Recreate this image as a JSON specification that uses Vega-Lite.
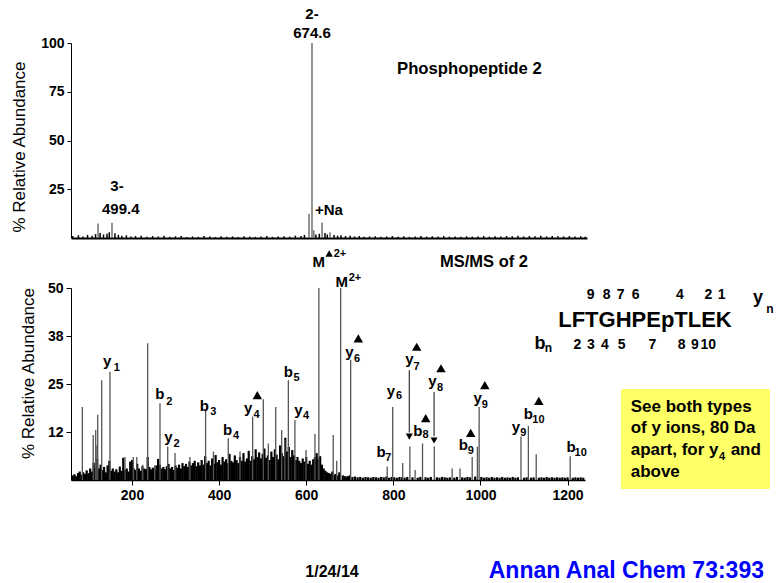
{
 "$schema": "https://vega.github.io/schema/vega-lite/v6.json",
 "padding": {"left": 10, "top": 6, "right": 14, "bottom": 8},
 "background": "white",
 "spacing": 50,
 "bounds": "flush",
 "config": {
  "view": {"stroke": null},
  "font": "Liberation Sans",
  "axis": {"grid": false, "labelFont": "Liberation Sans", "labelFontWeight": "bold", "labelFontSize": 14, "labelColor": "black", "tickColor": "black", "domainColor": "black", "tickSize": 5, "labelPadding": 3, "titleFont": "Liberation Sans", "titleFontSize": 17, "titleFontWeight": "normal", "titleColor": "black"}
 },
 "datasets": {
  "topNoise": [{"mz":465,"v":1.0},{"mz":470,"v":1.4},{"mz":474,"v":0.8},{"mz":478,"v":1.6},{"mz":482,"v":1.2},{"mz":485,"v":2.0},{"mz":489,"v":2.6},{"mz":492,"v":1.8},{"mz":495,"v":2.2},{"mz":497,"v":3.0},{"mz":502,"v":2.4},{"mz":505,"v":1.6},{"mz":508,"v":1.2},{"mz":512,"v":1.4},{"mz":516,"v":0.8},{"mz":520,"v":1.0},{"mz":525,"v":1.2},{"mz":530,"v":0.6},{"mz":535,"v":1.0},{"mz":540,"v":0.8},{"mz":545,"v":1.2},{"mz":550,"v":0.6},{"mz":555,"v":0.9},{"mz":560,"v":1.0},{"mz":565,"v":0.5},{"mz":570,"v":0.8},{"mz":575,"v":0.6},{"mz":580,"v":1.0},{"mz":585,"v":0.8},{"mz":590,"v":0.5},{"mz":595,"v":0.9},{"mz":600,"v":0.6},{"mz":605,"v":0.8},{"mz":610,"v":0.5},{"mz":615,"v":0.9},{"mz":620,"v":0.7},{"mz":625,"v":0.6},{"mz":630,"v":0.8},{"mz":635,"v":1.0},{"mz":640,"v":0.6},{"mz":645,"v":0.8},{"mz":650,"v":0.9},{"mz":655,"v":0.7},{"mz":660,"v":1.2},{"mz":665,"v":1.0},{"mz":668,"v":1.6},{"mz":678,"v":1.8},{"mz":681,"v":2.2},{"mz":686,"v":2.6},{"mz":688,"v":1.8},{"mz":694,"v":1.6},{"mz":697,"v":1.2},{"mz":700,"v":1.4},{"mz":704,"v":1.0},{"mz":708,"v":1.2},{"mz":712,"v":0.8},{"mz":716,"v":1.0},{"mz":720,"v":0.6},{"mz":725,"v":0.8},{"mz":730,"v":0.9},{"mz":735,"v":0.6},{"mz":740,"v":0.8},{"mz":745,"v":1.0},{"mz":750,"v":0.7},{"mz":755,"v":0.9},{"mz":760,"v":0.6},{"mz":765,"v":0.8},{"mz":770,"v":1.0},{"mz":775,"v":0.7},{"mz":780,"v":0.9},{"mz":785,"v":0.8},{"mz":790,"v":1.0},{"mz":795,"v":0.7},{"mz":800,"v":0.8},{"mz":805,"v":0.6},{"mz":810,"v":0.9},{"mz":815,"v":0.7},{"mz":820,"v":0.8},{"mz":825,"v":1.0},{"mz":830,"v":0.7},{"mz":835,"v":0.9},{"mz":840,"v":0.8},{"mz":845,"v":1.0},{"mz":850,"v":0.9},{"mz":855,"v":1.1},{"mz":860,"v":0.8},{"mz":865,"v":1.0},{"mz":870,"v":0.9},{"mz":875,"v":1.1},{"mz":880,"v":0.8},{"mz":885,"v":1.0},{"mz":890,"v":0.9},{"mz":895,"v":0.8},{"mz":900,"v":1.0},{"mz":905,"v":0.8},{"mz":910,"v":0.9},{"mz":914,"v":0.7}],
  "topPeaks": [{"mz":487.2,"v":7.5},{"mz":499.4,"v":7.8},{"mz":672,"v":12.5},{"mz":674.6,"v":100},{"mz":676.2,"v":4},{"mz":683.4,"v":8},{"mz":690.4,"v":3}],
  "topText": [{"mz":674.6,"v":114.9,"t":"2-"},{"mz":674.6,"v":104.9,"t":"674.6"},{"mz":503.8,"v":26.6,"t":"3-"},{"mz":507.1,"v":14.9,"t":"499.4"},{"mz":689.5,"v":14.4,"t":"+Na"}],
  "topTitle": [{"mz":749.1,"v":86.7,"t":"Phosphopeptide 2"}],
  "msNoise": [{"mz":64,"v":1.2},{"mz":68,"v":1.5},{"mz":72,"v":1.0},{"mz":76,"v":1.8},{"mz":80,"v":2.2},{"mz":84,"v":1.4},{"mz":88,"v":2.0},{"mz":92,"v":1.6},{"mz":96,"v":2.5},{"mz":100,"v":1.8},{"mz":104,"v":3.0},{"mz":108,"v":2.2},{"mz":112,"v":4.5},{"mz":116,"v":3.2},{"mz":120,"v":5.5},{"mz":124,"v":3.0},{"mz":128,"v":4.0},{"mz":132,"v":2.6},{"mz":136,"v":3.4},{"mz":140,"v":2.0},{"mz":144,"v":3.8},{"mz":148,"v":5.0},{"mz":152,"v":2.4},{"mz":156,"v":3.0},{"mz":160,"v":2.2},{"mz":164,"v":2.8},{"mz":168,"v":2.0},{"mz":172,"v":3.5},{"mz":176,"v":2.4},{"mz":180,"v":5.8},{"mz":184,"v":2.6},{"mz":188,"v":3.0},{"mz":192,"v":2.2},{"mz":196,"v":4.8},{"mz":200,"v":5.2},{"mz":204,"v":3.0},{"mz":208,"v":2.6},{"mz":212,"v":4.2},{"mz":216,"v":3.0},{"mz":220,"v":2.4},{"mz":224,"v":3.6},{"mz":228,"v":3.0},{"mz":232,"v":2.8},{"mz":236,"v":6.0},{"mz":240,"v":3.4},{"mz":244,"v":2.8},{"mz":248,"v":3.2},{"mz":252,"v":2.6},{"mz":256,"v":3.8},{"mz":260,"v":5.5},{"mz":264,"v":4.0},{"mz":268,"v":3.0},{"mz":272,"v":3.4},{"mz":276,"v":2.8},{"mz":280,"v":3.6},{"mz":284,"v":4.2},{"mz":288,"v":3.0},{"mz":292,"v":3.4},{"mz":296,"v":2.6},{"mz":300,"v":3.8},{"mz":304,"v":3.2},{"mz":308,"v":4.0},{"mz":312,"v":3.0},{"mz":316,"v":4.4},{"mz":320,"v":3.6},{"mz":324,"v":4.2},{"mz":328,"v":3.4},{"mz":332,"v":4.8},{"mz":336,"v":3.8},{"mz":340,"v":4.4},{"mz":344,"v":5.0},{"mz":348,"v":3.6},{"mz":352,"v":4.6},{"mz":356,"v":3.8},{"mz":360,"v":5.2},{"mz":364,"v":4.0},{"mz":368,"v":6.2},{"mz":372,"v":4.4},{"mz":376,"v":5.0},{"mz":380,"v":3.8},{"mz":384,"v":5.6},{"mz":388,"v":4.2},{"mz":392,"v":6.5},{"mz":396,"v":4.6},{"mz":400,"v":5.2},{"mz":404,"v":4.0},{"mz":408,"v":6.0},{"mz":412,"v":4.8},{"mz":416,"v":5.4},{"mz":420,"v":4.4},{"mz":424,"v":6.8},{"mz":428,"v":5.0},{"mz":432,"v":4.6},{"mz":436,"v":6.4},{"mz":440,"v":5.2},{"mz":444,"v":4.4},{"mz":448,"v":6.0},{"mz":452,"v":5.0},{"mz":456,"v":7.0},{"mz":460,"v":4.8},{"mz":464,"v":5.6},{"mz":468,"v":7.6},{"mz":472,"v":5.0},{"mz":476,"v":6.2},{"mz":480,"v":5.4},{"mz":484,"v":8.0},{"mz":488,"v":6.0},{"mz":492,"v":7.2},{"mz":496,"v":5.6},{"mz":500,"v":6.8},{"mz":504,"v":8.2},{"mz":508,"v":5.8},{"mz":512,"v":6.4},{"mz":516,"v":5.2},{"mz":520,"v":7.4},{"mz":524,"v":6.0},{"mz":528,"v":8.0},{"mz":532,"v":6.6},{"mz":536,"v":5.4},{"mz":540,"v":9.0},{"mz":544,"v":7.0},{"mz":548,"v":6.2},{"mz":552,"v":11.0},{"mz":556,"v":7.4},{"mz":560,"v":8.6},{"mz":564,"v":6.0},{"mz":568,"v":7.8},{"mz":572,"v":6.4},{"mz":576,"v":5.2},{"mz":580,"v":6.0},{"mz":584,"v":5.0},{"mz":588,"v":4.4},{"mz":592,"v":5.6},{"mz":596,"v":4.8},{"mz":600,"v":6.0},{"mz":604,"v":4.2},{"mz":608,"v":5.0},{"mz":612,"v":4.0},{"mz":616,"v":5.4},{"mz":620,"v":6.0},{"mz":624,"v":7.0},{"mz":628,"v":5.6},{"mz":632,"v":6.2},{"mz":636,"v":4.0},{"mz":640,"v":3.0},{"mz":644,"v":2.4},{"mz":648,"v":2.0},{"mz":652,"v":1.8},{"mz":656,"v":1.6},{"mz":660,"v":2.2},{"mz":664,"v":1.4},{"mz":668,"v":1.6},{"mz":672,"v":1.2},{"mz":676,"v":2.0},{"mz":684,"v":1.2},{"mz":688,"v":1.0},{"mz":692,"v":0.9},{"mz":696,"v":1.0},{"mz":700,"v":1.2},{"mz":706,"v":0.8},{"mz":712,"v":0.9},{"mz":718,"v":0.7},{"mz":724,"v":0.8},{"mz":730,"v":0.6},{"mz":736,"v":0.8},{"mz":742,"v":0.7},{"mz":748,"v":0.6},{"mz":754,"v":0.8},{"mz":760,"v":0.7},{"mz":766,"v":0.6},{"mz":772,"v":0.8},{"mz":778,"v":0.7},{"mz":784,"v":0.9},{"mz":790,"v":0.6},{"mz":796,"v":0.8},{"mz":802,"v":0.7},{"mz":808,"v":0.6},{"mz":814,"v":0.8},{"mz":820,"v":0.7},{"mz":826,"v":0.6},{"mz":832,"v":0.8},{"mz":844,"v":0.7},{"mz":856,"v":0.6},{"mz":862,"v":0.8},{"mz":874,"v":0.7},{"mz":880,"v":0.6},{"mz":886,"v":0.8},{"mz":900,"v":0.7},{"mz":906,"v":0.6},{"mz":912,"v":0.8},{"mz":918,"v":0.7},{"mz":924,"v":0.6},{"mz":930,"v":0.7},{"mz":940,"v":0.6},{"mz":946,"v":0.8},{"mz":958,"v":0.7},{"mz":964,"v":0.6},{"mz":970,"v":0.8},{"mz":976,"v":0.7},{"mz":988,"v":0.9},{"mz":1002,"v":0.8},{"mz":1008,"v":0.6},{"mz":1014,"v":0.7},{"mz":1020,"v":0.6},{"mz":1026,"v":0.8},{"mz":1032,"v":0.6},{"mz":1038,"v":0.7},{"mz":1044,"v":0.6},{"mz":1050,"v":0.8},{"mz":1056,"v":0.6},{"mz":1062,"v":0.7},{"mz":1068,"v":0.6},{"mz":1074,"v":0.8},{"mz":1080,"v":0.6},{"mz":1086,"v":0.7},{"mz":1100,"v":0.6},{"mz":1106,"v":0.7},{"mz":1116,"v":0.6},{"mz":1122,"v":0.7},{"mz":1134,"v":0.6},{"mz":1140,"v":0.7},{"mz":1146,"v":0.6},{"mz":1152,"v":0.8},{"mz":1158,"v":0.6},{"mz":1164,"v":0.7},{"mz":1170,"v":0.6},{"mz":1176,"v":0.7},{"mz":1182,"v":0.6},{"mz":1188,"v":0.7},{"mz":1194,"v":0.6},{"mz":1200,"v":0.7},{"mz":1212,"v":0.6},{"mz":1218,"v":0.7},{"mz":1224,"v":0.6},{"mz":1230,"v":0.7},{"mz":1236,"v":0.6}],
  "msPeaks": [{"mz":86,"v":19},{"mz":111,"v":11.7},{"mz":116.7,"v":13},{"mz":119.5,"v":9},{"mz":121.3,"v":17},{"mz":130.5,"v":26},{"mz":149.5,"v":28.2},{"mz":184,"v":6},{"mz":203,"v":6},{"mz":211,"v":6},{"mz":224.6,"v":4},{"mz":236,"v":35.6},{"mz":252,"v":3.8},{"mz":264.3,"v":20},{"mz":282,"v":8.7},{"mz":298.8,"v":7},{"mz":333,"v":6},{"mz":369,"v":18.2},{"mz":387,"v":7.4},{"mz":421,"v":10.9},{"mz":448,"v":7.4},{"mz":477,"v":16.5},{"mz":501.5,"v":21},{"mz":513,"v":9.5},{"mz":530,"v":19},{"mz":543.7,"v":13},{"mz":551,"v":10.4},{"mz":559,"v":26},{"mz":574,"v":15.6},{"mz":599.5,"v":7.8},{"mz":620,"v":12},{"mz":629,"v":50.3},{"mz":662,"v":11.7},{"mz":670,"v":5},{"mz":679,"v":50.5},{"mz":702,"v":31.3},{"mz":786,"v":3.5},{"mz":798.5,"v":19},{"mz":821.5,"v":4.4},{"mz":838,"v":8.7},{"mz":850,"v":2.6},{"mz":867,"v":9.5},{"mz":894,"v":8.7},{"mz":935,"v":3},{"mz":953,"v":3},{"mz":981,"v":6},{"mz":993,"v":8.7},{"mz":997,"v":19},{"mz":1093,"v":11.3},{"mz":1110,"v":14.1},{"mz":1128,"v":6.7},{"mz":1206,"v":6.2}],
  "arrows": [{"mz":836.7,"v":28.6,"v2":12.4},{"mz":893.5,"v":22.9,"v2":11.4}],
  "arrowHeads": [{"mz":836.7,"v":11.3},{"mz":893.5,"v":10.3}],
  "tri": [{"mz":487.7,"v":22.1},{"mz":719.6,"v":36.9},{"mz":853.6,"v":34.7},{"mz":909.4,"v":29.1},{"mz":874.3,"v":16.1},{"mz":1010,"v":24.7},{"mz":977.6,"v":12.3},{"mz":1134,"v":20.6}],
  "triSmall": [{"mz":652.7,"v":59.0}],
  "ionLetters": [{"mz":143,"v":31.0,"t":"y"},{"mz":264,"v":22.4,"t":"b"},{"mz":283.4,"v":11.2,"t":"y"},{"mz":366,"v":19.3,"t":"b"},{"mz":419.7,"v":13,"t":"b"},{"mz":467,"v":18.8,"t":"y"},{"mz":559,"v":28.2,"t":"b"},{"mz":582,"v":18.1,"t":"y"},{"mz":699,"v":33.4,"t":"y"},{"mz":794.6,"v":23.2,"t":"y"},{"mz":771.7,"v":7.4,"t":"b"},{"mz":836.7,"v":31.4,"t":"y"},{"mz":889.5,"v":25.8,"t":"y"},{"mz":856,"v":12.8,"t":"b"},{"mz":993.6,"v":21.4,"t":"y"},{"mz":960.6,"v":9.1,"t":"b"},{"mz":1081.6,"v":13.8,"t":"y"},{"mz":1110,"v":17.2,"t":"b"},{"mz":1208,"v":8.7,"t":"b"},{"mz":628.6,"v":56.9,"t":"M"},{"mz":681.4,"v":51.6,"t":"M"}],
  "ionSubs": [{"mz":165,"v":29.2,"t":"1"},{"mz":285.7,"v":20.4,"t":"2"},{"mz":302.6,"v":9.4,"t":"2"},{"mz":386.7,"v":17.6,"t":"3"},{"mz":438.8,"v":11.5,"t":"4"},{"mz":486,"v":16.9,"t":"4"},{"mz":578,"v":26.5,"t":"5"},{"mz":599.5,"v":16.7,"t":"4"},{"mz":717,"v":31.4,"t":"6"},{"mz":813,"v":21.9,"t":"6"},{"mz":788.5,"v":5.6,"t":"7"},{"mz":853.6,"v":29.5,"t":"7"},{"mz":907,"v":24,"t":"8"},{"mz":874,"v":11.7,"t":"8"},{"mz":1010,"v":19.5,"t":"9"},{"mz":977.6,"v":7.5,"t":"9"},{"mz":1098.5,"v":12.2,"t":"9"},{"mz":1133,"v":15.6,"t":"10"},{"mz":1230,"v":7.1,"t":"10"},{"mz":677.4,"v":58.9,"t":"2+"},{"mz":712,"v":52.6,"t":"2+"}],
  "msTitle": [{"mz":907.1,"v":56.8,"t":"MS/MS of 2"}],
  "seq": [{"mz":1377.7,"v":41.7,"t":"LFTGHPEpTLEK"}],
  "seqNums": [{"mz":1253.1,"v":48.2,"t":"9"},{"mz":1289.8,"v":48.2,"t":"8"},{"mz":1321.9,"v":48.2,"t":"7"},{"mz":1356.4,"v":48.2,"t":"6"},{"mz":1458.1,"v":48.2,"t":"4"},{"mz":1523.0,"v":48.2,"t":"2"},{"mz":1553.8,"v":48.2,"t":"1"},{"mz":1222.3,"v":35.2,"t":"2"},{"mz":1253.8,"v":35.2,"t":"3"},{"mz":1285.9,"v":35.2,"t":"4"},{"mz":1324.2,"v":35.2,"t":"5"},{"mz":1394.5,"v":35.2,"t":"7"},{"mz":1462,"v":35.2,"t":"8"},{"mz":1492.5,"v":35.2,"t":"9"},{"mz":1523.0,"v":35.2,"t":"10"}],
  "seqLetters": [{"mz":1637.1,"v":47.3,"t":"y"},{"mz":1136.7,"v":35.4,"t":"b"}],
  "seqSubs": [{"mz":1664.7,"v":44.5,"t":"n"},{"mz":1155.8,"v":34.3,"t":"n"}],
  "box": [{"mz":1322.6,"mz2":1664.7,"v":23.7,"v2":-2.34}],
  "boxText": [{"mz":1344.9,"v":17.79,"t":"See both types"},{"mz":1344.9,"v":12.15,"t":"of y ions, 80 Da"},{"mz":1344.9,"v":6.51,"t":"apart, for y"},{"mz":1574.4,"v":6.51,"t":"and"},{"mz":1344.9,"v":0.86,"t":"above"}],
  "boxSub": [{"mz":1547.6,"v":5.3,"t":"4"}],
  "footDate": [{"mz":659.2,"v":-24.0,"t":"1/24/14"}],
  "footRef": [{"mz":1019,"v":-23.8,"t":"Annan Anal Chem 73:393"}]
 },
 "vconcat": [
  {
   "width": 516, "height": 195,
   "encoding": {
    "x": {"field": "mz", "type": "quantitative", "scale": {"domain": [463.5, 915.5], "nice": false, "zero": false}, "axis": {"labels": false, "ticks": false, "title": null, "domainWidth": 2}},
    "y": {"field": "v", "type": "quantitative", "scale": {"domain": [0, 100], "nice": false}, "axis": {"values": [25, 50, 75, 100], "title": "% Relative Abundance", "titleX": -52, "titleY": 103.5, "titleAngle": 270, "titleAlign": "center", "titleBaseline": "middle", "tickSize": 4}}
   },
   "layer": [
    {"data": {"name": "topNoise"}, "mark": {"type": "rule", "color": "black", "strokeWidth": 1.5, "clip": true}, "encoding": {"y2": {"datum": 0}}},
    {"data": {"name": "topPeaks"}, "mark": {"type": "rule", "color": "#666666", "strokeWidth": 1.4, "clip": true}, "encoding": {"y2": {"datum": 0}}},
    {"data": {"name": "topText"}, "mark": {"type": "text", "font": "Liberation Sans", "fontWeight": "bold", "fontSize": 15, "align": "center", "baseline": "middle", "color": "black"}, "encoding": {"text": {"field": "t"}}},
    {"data": {"name": "topTitle"}, "mark": {"type": "text", "font": "Liberation Sans", "fontWeight": "bold", "fontSize": 16.7, "align": "left", "baseline": "middle", "color": "black"}, "encoding": {"text": {"field": "t"}}}
   ]
  },
  {
   "width": 514, "height": 192,
   "encoding": {
    "x": {"field": "mz", "type": "quantitative", "scale": {"domain": [60, 1240], "nice": false, "zero": false}, "axis": {"values": [200, 400, 600, 800, 1000, 1200], "format": "d", "title": null, "domainWidth": 1.5, "tickSize": 5}},
    "y": {"field": "v", "type": "quantitative", "scale": {"domain": [0, 50], "nice": false}, "axis": {"values": [12.5, 25, 37.5, 50], "labelExpr": "datum.value == 12.5 ? '12' : datum.value == 37.5 ? '38' : datum.label", "title": "% Relative Abundance", "titleX": -42.5, "titleY": 85, "titleAngle": 270, "titleAlign": "center", "titleBaseline": "middle", "tickSize": 5}}
   },
   "layer": [
    {"data": {"name": "box"}, "mark": {"type": "rect", "color": "#ffff66"}, "encoding": {"x2": {"field": "mz2"}, "y2": {"field": "v2"}}},
    {"data": {"name": "msNoise"}, "mark": {"type": "rule", "color": "black", "strokeWidth": 2.2, "clip": true}, "encoding": {"y2": {"datum": 0}}},
    {"data": {"name": "msPeaks"}, "mark": {"type": "rule", "color": "#555555", "strokeWidth": 1.3, "clip": true}, "encoding": {"y2": {"datum": 0}}},
    {"data": {"name": "arrows"}, "mark": {"type": "rule", "color": "#444444", "strokeWidth": 1.3}, "encoding": {"y2": {"field": "v2"}}},
    {"data": {"name": "arrowHeads"}, "mark": {"type": "point", "shape": "triangle-down", "filled": true, "color": "black", "opacity": 1, "size": 50}},
    {"data": {"name": "tri"}, "mark": {"type": "point", "shape": "triangle-up", "filled": true, "color": "black", "opacity": 1, "size": 90}},
    {"data": {"name": "triSmall"}, "mark": {"type": "point", "shape": "triangle-up", "filled": true, "color": "black", "opacity": 1, "size": 55}},
    {"data": {"name": "ionLetters"}, "mark": {"type": "text", "font": "Liberation Sans", "fontWeight": "bold", "fontSize": 15, "align": "center", "baseline": "middle", "color": "black"}, "encoding": {"text": {"field": "t"}}},
    {"data": {"name": "ionSubs"}, "mark": {"type": "text", "font": "Liberation Sans", "fontWeight": "bold", "fontSize": 11, "align": "center", "baseline": "middle", "color": "black"}, "encoding": {"text": {"field": "t"}}},
    {"data": {"name": "msTitle"}, "mark": {"type": "text", "font": "Liberation Sans", "fontWeight": "bold", "fontSize": 16.5, "align": "left", "baseline": "middle", "color": "black"}, "encoding": {"text": {"field": "t"}}},
    {"data": {"name": "seq"}, "mark": {"type": "text", "font": "Liberation Sans", "fontWeight": "bold", "fontSize": 22, "align": "center", "baseline": "middle", "color": "black"}, "encoding": {"text": {"field": "t"}}},
    {"data": {"name": "seqNums"}, "mark": {"type": "text", "font": "Liberation Sans", "fontWeight": "bold", "fontSize": 14, "align": "center", "baseline": "middle", "color": "black"}, "encoding": {"text": {"field": "t"}}},
    {"data": {"name": "seqLetters"}, "mark": {"type": "text", "font": "Liberation Sans", "fontWeight": "bold", "fontSize": 18, "align": "center", "baseline": "middle", "color": "black"}, "encoding": {"text": {"field": "t"}}},
    {"data": {"name": "seqSubs"}, "mark": {"type": "text", "font": "Liberation Sans", "fontWeight": "bold", "fontSize": 12, "align": "center", "baseline": "middle", "color": "black"}, "encoding": {"text": {"field": "t"}}},
    {"data": {"name": "boxText"}, "mark": {"type": "text", "font": "Liberation Sans", "fontWeight": "bold", "fontSize": 17, "align": "left", "baseline": "alphabetic", "color": "black"}, "encoding": {"text": {"field": "t"}}},
    {"data": {"name": "boxSub"}, "mark": {"type": "text", "font": "Liberation Sans", "fontWeight": "bold", "fontSize": 11, "align": "left", "baseline": "alphabetic", "color": "black"}, "encoding": {"text": {"field": "t"}}},
    {"data": {"name": "footDate"}, "mark": {"type": "text", "font": "Liberation Sans", "fontWeight": "bold", "fontSize": 16, "align": "center", "baseline": "middle", "color": "black"}, "encoding": {"text": {"field": "t"}}},
    {"data": {"name": "footRef"}, "mark": {"type": "text", "font": "Liberation Sans", "fontWeight": "bold", "fontSize": 23, "align": "left", "baseline": "middle", "color": "#0000ff"}, "encoding": {"text": {"field": "t"}}}
   ]
  }
 ]
}
